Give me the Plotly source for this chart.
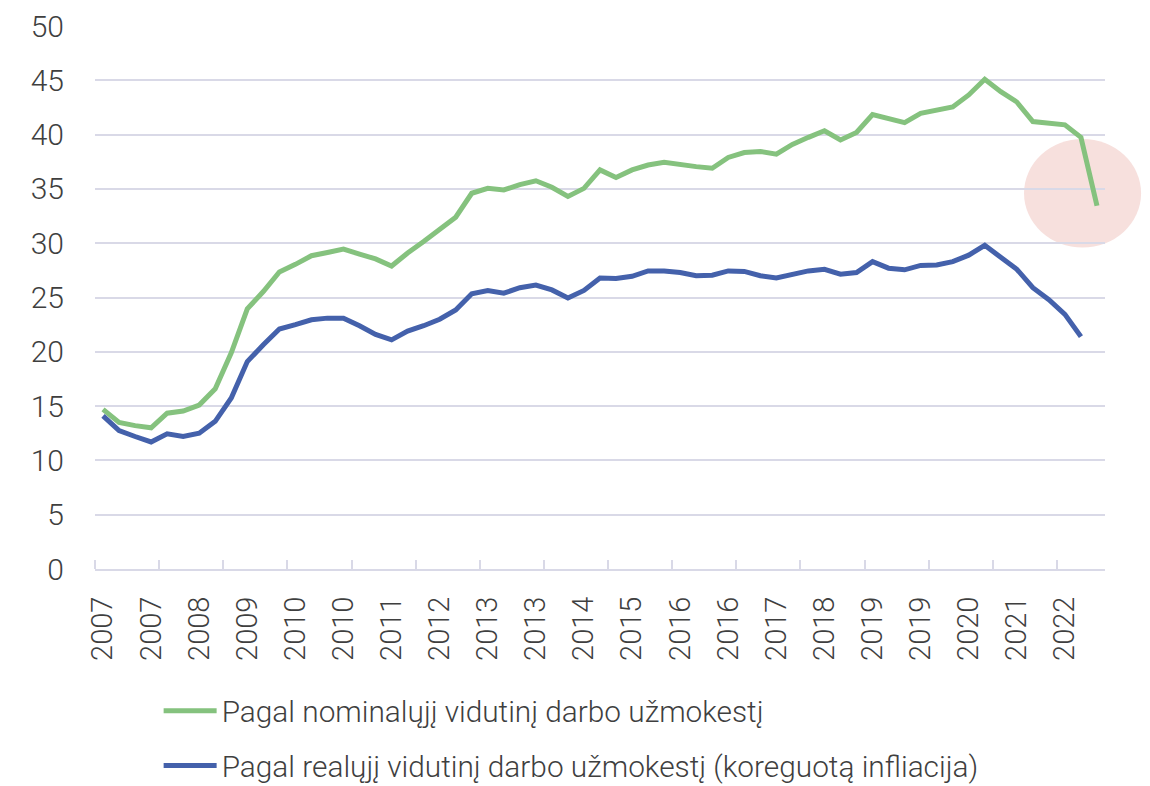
import plotly.graph_objects as go

# Quarterly observations, 2007 Q1 - 2022 Q3
quarters = [f"{y} Q{q}" for y in range(2007, 2023) for q in range(1, 5)][:63]

nominal = [
    14.7, 13.5, 13.2, 13.0, 14.35, 14.55, 15.1, 16.6, 19.9, 23.95,
    25.55, 27.35, 28.05, 28.85, 29.15, 29.45, 29.0, 28.55, 27.9, 29.1,
    30.15, 31.3, 32.4, 34.6, 35.05, 34.9, 35.4, 35.75, 35.15, 34.3,
    35.05, 36.75, 36.05, 36.75, 37.2, 37.45, 37.2, 37.05, 36.9, 37.9,
    38.35, 38.45, 38.2, 39.1, 39.75, 40.35, 39.5, 40.2, 41.85, 41.5,
    41.1, 41.95, 42.2, 42.55, 43.65, 45.1, 43.95, 43.0, 41.2, 41.0,
    40.9, 39.75, 33.45,
]

real = [
    14.1, 12.75, 12.2, 11.7, 12.45, 12.2, 12.5, 13.6, 15.75, 19.1,
    20.65, 22.1, 22.5, 22.95, 23.1, 23.1, 22.4, 21.6, 21.1, 21.9,
    22.4, 23.0, 23.85, 25.35, 25.65, 25.4, 25.9, 26.15, 25.7, 24.95,
    25.65, 26.8, 26.75, 26.95, 27.45, 27.45, 27.3, 27.0, 27.05, 27.45,
    27.4, 27.0, 26.8, 27.15, 27.45, 27.6, 27.15, 27.3, 28.3, 27.7,
    27.55, 27.95, 28.0, 28.3, 28.9, 29.8, 28.75, 27.6, 25.9, 24.8,
    23.45, 21.4, None,
]

series_names = [
    "Pagal nominalųjį vidutinį darbo užmokestį",
    "Pagal realųjį vidutinį darbo užmokestį (koreguotą infliacija)",
]

# Axis labels: every third quarter shows its year
label_step = 3
tick_idx = list(range(0, len(quarters), label_step))
tick_text = [quarters[i][:4] for i in tick_idx]

y_ticks = list(range(0, 55, 5))

GREEN = "#85c27e"
BLUE = "#4461ab"
GRID = "#d9d9e7"
TEXT = "#3f3f3f"
FONT = "Roboto"

x = list(range(len(quarters)))
x_range = [-0.5, len(quarters) - 0.5]
y_range = [0, 50]

fig = go.Figure()
fig.add_trace(go.Scatter(
    x=x, y=nominal, name=series_names[0], mode="lines",
    line=dict(color=GREEN, width=5), legendgroup="a",
    text=quarters, hovertemplate="%{text}: %{y}<extra></extra>",
))
fig.add_trace(go.Scatter(
    x=x, y=real, name=series_names[1], mode="lines",
    line=dict(color=BLUE, width=5), legendgroup="b",
    text=quarters, hovertemplate="%{text}: %{y}<extra></extra>",
))

# Highlight around the latest nominal reading (data units -> paper units)
hl_cx, hl_cy, hl_rx, hl_ry = 61.1, 34.6, 3.65, 5.0
def px(v):
    return (v - x_range[0]) / (x_range[1] - x_range[0])
def py(v):
    return (v - y_range[0]) / (y_range[1] - y_range[0])

fig.add_shape(
    type="circle", xref="paper", yref="paper",
    x0=px(hl_cx - hl_rx), x1=px(hl_cx + hl_rx),
    y0=py(hl_cy - hl_ry), y1=py(hl_cy + hl_ry),
    fillcolor="#f7e0dd", line=dict(width=0), layer="below",
)

fig.update_layout(
    width=1150, height=786,
    margin=dict(l=95, r=45, t=26, b=217, autoexpand=False),
    paper_bgcolor="white",
    plot_bgcolor="rgba(0,0,0,0)",
    font=dict(family=FONT, color=TEXT, size=29, weight=300),
    showlegend=True,
    legend=dict(
        orientation="v", x=0.063, xanchor="left", y=-0.2133, yanchor="top",
        font=dict(family=FONT, size=29.8, color=TEXT, weight=300),
        tracegroupgap=13, bgcolor="rgba(0,0,0,0)", itemwidth=53,
    ),
)

fig.update_xaxes(
    range=x_range, tickmode="array", tickvals=tick_idx, ticktext=tick_text,
    tickangle=-90, ticks="", showgrid=False, zeroline=False,
    showline=True, linecolor=GRID, linewidth=2,
    ticklabelstandoff=14, automargin=False,
    tickfont=dict(family=FONT, size=29, color=TEXT, weight=300),
    minor=dict(tickmode="linear", tick0=-0.5, dtick=4, ticks="inside",
               ticklen=9, tickwidth=2, tickcolor=GRID, showgrid=False),
)

fig.update_yaxes(
    range=y_range, tickmode="array", tickvals=y_ticks,
    showgrid=True, gridcolor=GRID, gridwidth=2,
    zeroline=False, showline=False, ticks="",
    ticklabelstandoff=30, automargin=False,
    tickfont=dict(family=FONT, size=30, color=TEXT, weight=300),
)

fig.write_html("out.html")
